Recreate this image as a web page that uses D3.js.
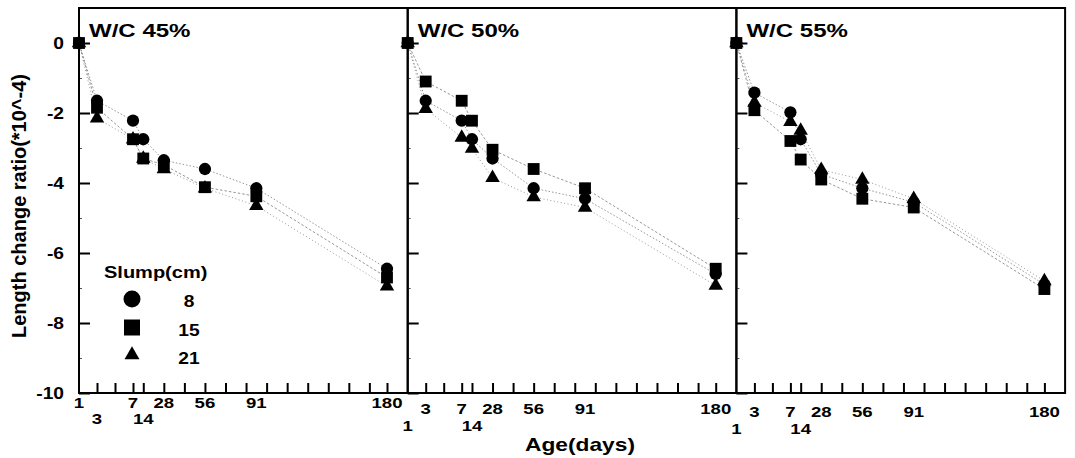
<!DOCTYPE html>
<html><head><meta charset="utf-8">
<script src="https://cdn.jsdelivr.net/npm/d3@7"></script>
<style>html,body{margin:0;padding:0;background:#fff;} svg{display:block;}</style>
</head><body>
<script>
// ---------- data ----------
const days = [1, 3, 7, 14, 28, 56, 91, 180];
const dayLabels = ["1", "3", "7", "14", "28", "56", "91", "180"];
const minorTickDays = [3, 5, 7, 14, 28, 42, 56, 70, 84, 98, 112, 126, 140, 154, 168, 180];
const panelTitles = ["W/C 45%", "W/C 50%", "W/C 55%"];
const slumpLabels = ["8", "15", "21"];
const yTickValues = [0, -2, -4, -6, -8, -10];
const yMinorTicks = [-1, -3, -5, -7, -9];

const wc45Slump8  = [0, -1.65, -2.22, -2.75, -3.35, -3.60, -4.15, -6.45];
const wc45Slump15 = [0, -1.85, -2.75, -3.30, -3.48, -4.12, -4.38, -6.70];
const wc45Slump21 = [0, -2.15, -2.75, -3.30, -3.60, -4.15, -4.65, -6.95];
const wc50Slump8  = [0, -1.65, -2.22, -2.75, -3.30, -4.15, -4.45, -6.60];
const wc50Slump15 = [0, -1.10, -1.65, -2.22, -3.05, -3.60, -4.15, -6.45];
const wc50Slump21 = [0, -1.88, -2.70, -3.02, -3.85, -4.40, -4.70, -6.93];
const wc55Slump8  = [0, -1.42, -1.98, -2.75, -3.75, -4.15, -4.55, -6.90];
const wc55Slump15 = [0, -1.92, -2.80, -3.33, -3.90, -4.45, -4.70, -7.03];
const wc55Slump21 = [0, -1.70, -2.25, -2.50, -3.62, -3.90, -4.45, -6.80];

const panelSeries = [
  [wc45Slump8, wc45Slump15, wc45Slump21],
  [wc50Slump8, wc50Slump15, wc50Slump21],
  [wc55Slump8, wc55Slump15, wc55Slump21]
];

// ---------- layout ----------
const W = 1075, H = 458;
const FONT = "'Liberation Sans', Arial, Helvetica, sans-serif";
const plotTop = 8, plotBottom = 393;
const firstLeft = 79, panelW = 328.7;
const labelRowsP1 = [0, 1, 0, 1, 0, 0, 0, 0];
const labelRowsP23 = [1, 0, 0, 1, 0, 0, 0, 0];
const rowBaseUpper = [408, 414, 417];
const rowBaseLower = [424, 431, 434];

const svg = d3.select("body").append("svg").attr("width", W).attr("height", H)
  .style("background", "#fff");

const y = d3.scaleLinear().domain([-10, 1]).range([plotBottom, plotTop]);

const symTypes = [d3.symbolCircle, d3.symbolSquare, d3.symbolTriangle];
const symSizes = [118, 140, 90];
const legendSizes = [227, 256, 97];
const dashes = ["1.5,2", "2.5,2", "1,2.5"];

function stext(g, x, yy, str, size, sx, anchor) {
  return g.append("text")
    .attr("transform", `translate(${x},${yy}) scale(${sx},1)`)
    .attr("font-family", FONT).attr("font-weight", "bold")
    .attr("font-size", size).attr("text-anchor", anchor || "start")
    .attr("fill", "#000").text(str);
}

panelTitles.forEach((title, p) => {
  const x0 = firstLeft + p * panelW;
  const x = d3.scaleLinear().domain([1, 3, 7, 180]).range([x0, x0 + 18, x0 + 54, x0 + 308]);
  const g = svg.append("g");

  // y axis (inward ticks)
  const ya = g.append("g").attr("transform", `translate(${x0},0)`)
    .call(d3.axisLeft(y).tickValues(yTickValues).tickSizeInner(-11).tickSizeOuter(0)
      .tickFormat(p === 0 ? (d => String(d)) : ""));
  ya.select(".domain").remove();
  ya.selectAll("line").attr("stroke", "#000").attr("stroke-width", 2);
  if (p === 0) {
    ya.selectAll("text").attr("x", -15 / 1.2).attr("dy", "0.36em")
      .attr("transform", "scale(1.2,1)")
      .attr("font-family", FONT).attr("font-weight", "bold").attr("font-size", 16)
      .attr("fill", "#000");
  } else {
    ya.selectAll("text").remove();
  }
  const ym = g.append("g").attr("transform", `translate(${x0},0)`)
    .call(d3.axisLeft(y).tickValues(yMinorTicks).tickSizeInner(-3).tickSizeOuter(0).tickFormat(""));
  ym.select(".domain").remove();
  ym.selectAll("line").attr("stroke", "#555").attr("stroke-width", 1);

  // x axis (inward ticks)
  const xa = g.append("g").attr("transform", `translate(0,${plotBottom})`)
    .call(d3.axisBottom(x).tickValues(minorTickDays).tickSizeInner(-10).tickSizeOuter(0).tickFormat(""));
  xa.select(".domain").remove();
  xa.selectAll("line").attr("stroke", "#000").attr("stroke-width", 2);

  // frame
  g.append("rect").attr("x", x0).attr("y", plotTop).attr("width", panelW).attr("height", plotBottom - plotTop)
    .attr("fill", "none").attr("stroke", "#000").attr("stroke-width", 2);

  // x tick labels
  const rows = p === 0 ? labelRowsP1 : labelRowsP23;
  dayLabels.forEach((lab, i) => {
    const by = rows[i] ? rowBaseLower[p] : rowBaseUpper[p];
    stext(g, x(days[i]), by, lab, 15.5, 1.2, "middle");
  });

  // title
  stext(g, x0 + 10, 37, title, 18.5, 1.3, "start");

  // lines
  const line = d3.line().x((d, i) => x(days[i])).y(d => y(d));
  panelSeries[p].forEach((vals, s) => {
    g.append("path").datum(vals).attr("d", line)
      .attr("fill", "none").attr("stroke", "#8a8a8a").attr("stroke-width", 0.9)
      .attr("stroke-dasharray", dashes[s]);
  });
  // markers
  panelSeries[p].forEach((vals, s) => {
    g.selectAll(null).data(vals).enter().append("path")
      .attr("transform", (d, i) => `translate(${x(days[i])},${y(d)})`)
      .attr("d", d3.symbol().type(symTypes[s]).size(symSizes[s]))
      .attr("fill", "#000");
  });
});

// legend
const lg = svg.append("g");
stext(lg, 104, 278, "Slump(cm)", 16, 1.25, "start");
const legendY = [299, 327.5, 355];
const legendTextY = [307, 336, 364];
slumpLabels.forEach((lab, s) => {
  lg.append("path").attr("transform", `translate(132,${legendY[s]})`)
    .attr("d", d3.symbol().type(symTypes[s]).size(legendSizes[s])).attr("fill", "#000");
  stext(lg, 189, legendTextY[s], lab, 16, 1.2, "middle");
});

// axis titles
svg.append("text").attr("transform", "translate(26,206) rotate(-90)")
  .attr("font-family", FONT).attr("font-weight", "bold").attr("font-size", 20)
  .attr("text-anchor", "middle").attr("fill", "#000").text("Length change ratio(*10^-4)");
stext(svg, 580, 451, "Age(days)", 17.5, 1.3, "middle");
</script>
</body></html>
